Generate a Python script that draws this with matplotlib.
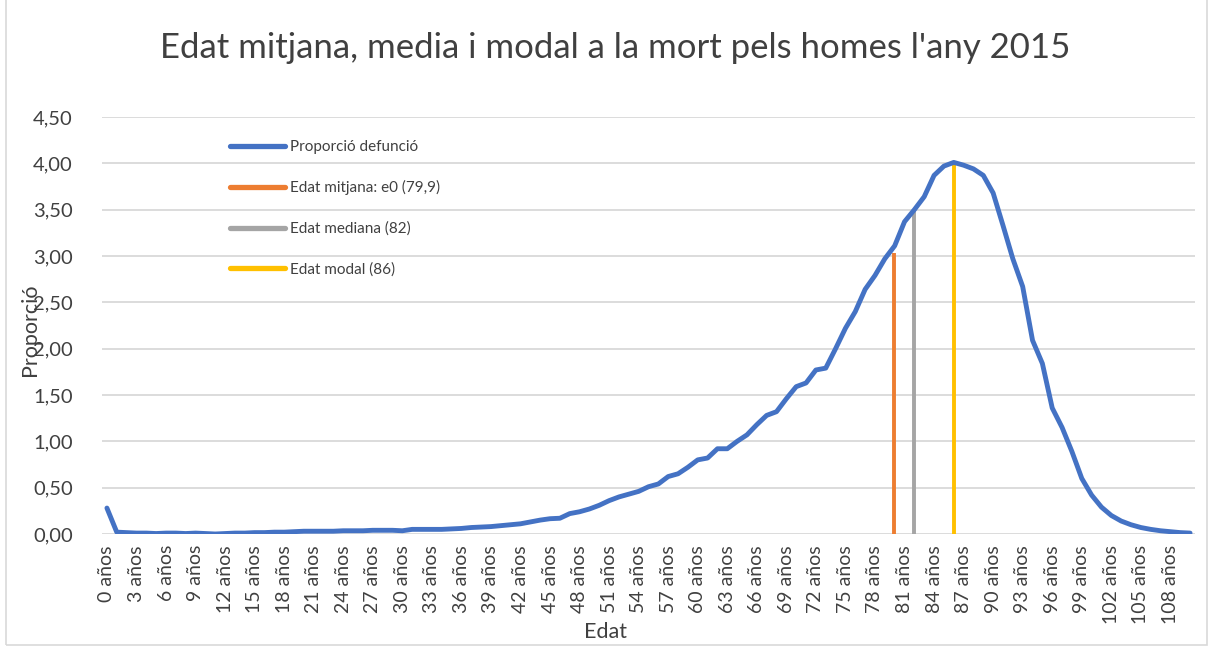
import matplotlib
matplotlib.use("Agg")
import matplotlib.pyplot as plt
from matplotlib.patches import Rectangle
from matplotlib.ticker import FuncFormatter, MultipleLocator

plt.rcParams['font.family'] = ['Lato', 'DejaVu Sans']

# ---- data ----
ages = list(range(0, 111))
age_labels = [f"{a} años" for a in ages]
proportion = [
    0.28, 0.02, 0.015, 0.01, 0.01, 0.005, 0.01, 0.01, 0.005, 0.01,   # 0-9
    0.005, 0.0, 0.005, 0.01, 0.01, 0.015, 0.015, 0.02, 0.02, 0.025,  # 10-19
    0.03, 0.03, 0.03, 0.03, 0.035, 0.035, 0.035, 0.04, 0.04, 0.04,   # 20-29
    0.035, 0.05, 0.05, 0.05, 0.05, 0.055, 0.06, 0.07, 0.075, 0.08,   # 30-39
    0.09, 0.10, 0.11, 0.13, 0.15, 0.165, 0.17, 0.22, 0.24, 0.27,     # 40-49
    0.31, 0.36, 0.40, 0.43, 0.46, 0.51, 0.54, 0.62, 0.65, 0.72,      # 50-59
    0.80, 0.82, 0.92, 0.92, 1.00, 1.07, 1.18, 1.28, 1.32, 1.46,      # 60-69
    1.59, 1.63, 1.77, 1.79, 2.00, 2.22, 2.40, 2.64, 2.79, 2.97,      # 70-79
    3.11, 3.37, 3.50, 3.64, 3.87, 3.97, 4.01, 3.98, 3.94, 3.87,      # 80-89
    3.68, 3.33, 2.97, 2.67, 2.09, 1.84, 1.36, 1.15, 0.89, 0.60,      # 90-99
    0.42, 0.29, 0.20, 0.14, 0.10, 0.07, 0.05, 0.035, 0.025, 0.015,   # 100-109
    0.01,                                                            # 110
]
ref_names = ["Edat mitjana: e0 (79,9)", "Edat mediana (82)", "Edat modal (86)"]
ref_ages = [79.9, 82, 86]
ref_heights = [3.03, 3.50, 3.98]
series_name = "Proporció defunció"
title = "Edat mitjana, media i modal a la mort pels homes l'any 2015"

# ---- style ----
W, H = 1214, 647
blue = "#4472C4"
ref_colors = ["#ED7D31", "#A5A5A5", "#FFC000"]
txt = "#404040"

fig = plt.figure(figsize=(W / 100, H / 100), dpi=100)
ax = fig.add_axes([102 / W, 1 - 534 / H, (1195 - 102) / W, (534 - 117) / H])

ax.plot(ages, proportion, color=blue, lw=3.5, solid_joinstyle='round',
        solid_capstyle='round', label=series_name, zorder=3)
for xa, hh, c, n in zip(ref_ages, ref_heights, ref_colors, ref_names):
    ax.plot([xa, xa], [0, hh], color=c, lw=2.8, label=n, zorder=2,
            solid_capstyle='butt')

ax.set_xlim(-0.5, 110.5)
ax.set_ylim(0, 4.5)
ax.yaxis.set_major_locator(MultipleLocator(0.5))
ax.yaxis.set_major_formatter(FuncFormatter(lambda v, p: f"{v:.2f}".replace('.', ',')))
ax.set_xticks(ages[::3])
ax.set_xticklabels(age_labels[::3], rotation=90, fontsize=14, color=txt)
ax.tick_params(axis='y', labelsize=14.5, colors=txt, length=0, pad=21)
ax.tick_params(axis='x', length=0, pad=8)
ax.grid(axis='y', color='#D9D9D9', lw=1.3)
ax.set_axisbelow(True)
for s in ax.spines.values():
    s.set_visible(False)

leg = fig.legend(loc='upper left', bbox_to_anchor=(230 / W, 1 - 140 / H),
                 frameon=False, fontsize=11, labelspacing=1.72,
                 handlelength=3.6, handletextpad=0.3, borderpad=0,
                 borderaxespad=0, labelcolor=txt)
for line in leg.get_lines():
    line.set_linewidth(3.8)
    line.set_solid_capstyle('round')

fig.text(615 / W, 1 - 48 / H, title, ha='center', va='center',
         fontsize=25, color=txt)
fig.text(606 / W, 1 - 632 / H, "Edat", ha='center', va='center',
         fontsize=15.5, color=txt)
fig.text(30 / W, 1 - 330 / H, "Proporció", ha='center', va='center',
         fontsize=15.5, color=txt, rotation=90)

fig.add_artist(Rectangle((6 / W, 2 / H), 1201 / W, 1.2, transform=fig.transFigure,
                         fill=False, edgecolor='#D9D9D9', lw=1.2))

fig.savefig("out.png", dpi=100)
